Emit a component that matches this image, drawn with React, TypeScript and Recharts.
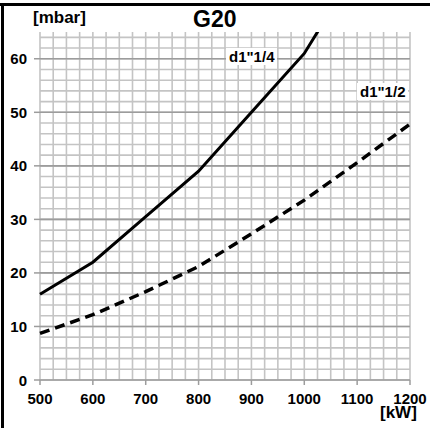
import React from "react";
import { LineChart, Line, XAxis, YAxis, CartesianGrid } from "recharts";

const loadKw = [500, 600, 700, 800, 900, 1000, 1100, 1200];
const pressure114 = [16, 22, 30.5, 39, 50, 61, 77, null];
const pressure112 = [8.7, 12.2, 16.5, 21.2, 27.3, 33.6, 40.6, 47.8];

const xTicks = [500, 600, 700, 800, 900, 1000, 1100, 1200];
const yTicks = [0, 10, 20, 30, 40, 50, 60];

const FONT = "'Liberation Sans', Arial, sans-serif";

// grid: every 25 kW, every 2 mbar
const gridX: number[] = [];
for (let v = 500; v <= 1200; v += 25) gridX.push(v);
const gridY: number[] = [];
for (let v = 0; v <= 64; v += 2) gridY.push(v);

const data = loadKw.map((kw, i) => ({
  kw,
  d114: pressure114[i],
  d112: pressure112[i],
}));

function XTick({ x, y, payload }: any) {
  return (
    <text x={x} y={y + 17} textAnchor="middle" fontFamily={FONT} fontWeight="bold" fontSize={15} fill="#000">
      {payload.value}
    </text>
  );
}

function YTick({ y, payload }: any) {
  return (
    <text x={27} y={y + 5.5} textAnchor="end" fontFamily={FONT} fontWeight="bold" fontSize={15} fill="#000">
      {payload.value}
    </text>
  );
}

const txt: React.CSSProperties = {
  position: "absolute",
  fontFamily: FONT,
  fontWeight: "bold",
  color: "#000",
  lineHeight: 1,
  whiteSpace: "nowrap",
};

export default function App() {
  return (
    <div style={{ position: "absolute", left: 0, top: 0, width: 430, height: 428, background: "#fff" }}>
      <LineChart width={430} height={428} data={data} margin={{ top: 32, right: 20, left: 0, bottom: 0 }}>
        <CartesianGrid
          horizontalValues={gridY}
          verticalValues={gridX}
          stroke="#c4c4c4"
          strokeWidth={1.6}
        />
        <CartesianGrid horizontalValues={yTicks} vertical={false} stroke="#9c9c9c" strokeWidth={1.6} />
        <XAxis
          dataKey="kw"
          type="number"
          domain={[500, 1200]}
          ticks={xTicks}
          height={48}
          axisLine={false}
          tickLine={{ stroke: "#9c9c9c", strokeWidth: 1.5 }}
          tickSize={5}
          tick={<XTick />}
          interval={0}
        />
        <YAxis
          type="number"
          domain={[0, 65]}
          allowDataOverflow
          ticks={yTicks}
          width={40}
          axisLine={false}
          tickLine={{ stroke: "#9c9c9c", strokeWidth: 1.5 }}
          tickSize={6}
          tick={<YTick />}
          interval={0}
        />
        <Line
          dataKey="d112"
          stroke="#000"
          strokeWidth={3.5}
          strokeDasharray="10 6"
          dot={false}
          type="linear"
          isAnimationActive={false}
        />
        <Line
          dataKey="d114"
          stroke="#000"
          strokeWidth={3}
          dot={false}
          type="linear"
          isAnimationActive={false}
        />
      </LineChart>

      <div style={{ position: "absolute", left: 0, top: 3, width: 430, height: 3, background: "#000" }} />
      <div style={{ position: "absolute", left: 1, top: 3, width: 3, height: 425, background: "#000" }} />

      <div style={{ ...txt, left: 33, top: 9, fontSize: 17 }}>[mbar]</div>
      <div style={{ ...txt, left: 193, top: 8, fontSize: 23 }}>G20</div>
      <div style={{ ...txt, left: 380, top: 404, fontSize: 17 }}>[kW]</div>
      <div style={{ ...txt, left: 226, top: 48, fontSize: 15, background: "#fff", padding: "1px 3px" }}>d1"1/4</div>
      <div style={{ ...txt, left: 357, top: 83, fontSize: 15, background: "#fff", padding: "1px 3px" }}>d1"1/2</div>
    </div>
  );
}
